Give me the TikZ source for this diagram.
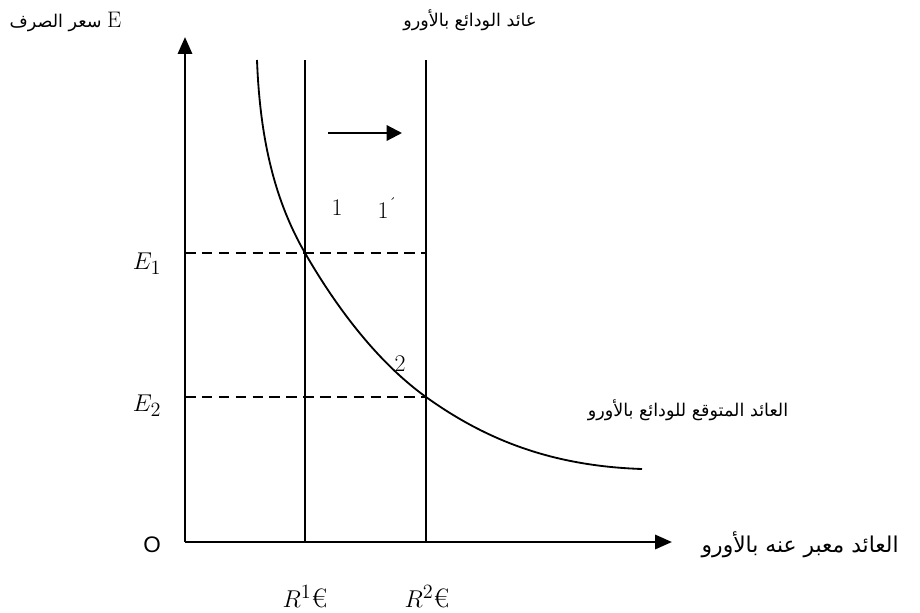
\documentclass[tikz,border=0pt]{standalone}
\usepackage{fontspec}
\newfontfamily\arabicfont[Script=Arabic]{DejaVu Sans}
\newfontfamily\axisfont{Liberation Sans}
\TeXXeTstate=1
\usetikzlibrary{positioning, arrows.meta}

\begin{document}
\begin{tikzpicture}[
    x=0.025cm, y=-0.025cm,
    axis line/.style={-{Triangle[length=12pt, width=10pt]}, line width=2pt},
    shift arrow/.style={-{Triangle[length=11pt, width=11pt]}, line width=1.6pt},
    rate line/.style={line width=1.2pt},
    level line/.style={line width=1.6pt, dash pattern=on 7.5pt off 4.5pt},
    curve line/.style={line width=1.3pt},
    ar label/.style={font=\arabicfont\fontsize{12.5}{15}\selectfont, inner sep=1pt},
    math label/.style={font=\fontsize{19}{22}\selectfont, inner sep=1pt},
    num label/.style={font=\fontsize{17}{20}\selectfont, inner sep=1pt}
]
    \useasboundingbox (0,0) rectangle (920,612);

    % Points
    \coordinate (o) at (185,542);
    \coordinate (ytip) at (185,37);
    \coordinate (xtip) at (672,542);
    \coordinate (r1top) at (305,60);
    \coordinate (r1bot) at (305,542);
    \coordinate (r2top) at (426,60);
    \coordinate (r2bot) at (426,542);
    \coordinate (e1left) at (185,253);
    \coordinate (e1right) at (426,253);
    \coordinate (e2left) at (185,397);
    \coordinate (e2right) at (426,397);
    \coordinate (shiftstart) at (328,133);
    \coordinate (shiftend) at (402,133);
    \coordinate (ctop) at (257,60);
    \coordinate (cend) at (642,469);

    % Axes
    \draw[axis line] (o) -- (ytip);
    \draw[axis line] (o) -- (xtip);

    % Euro deposit returns
    \draw[rate line] (r1top) -- (r1bot);
    \draw[rate line] (r2top) -- (r2bot);
    \draw[shift arrow] (shiftstart) -- (shiftend);

    % Exchange rate levels
    \draw[level line] (e1left) -- (e1right);
    \draw[level line] (e2left) -- (e2right);

    % Expected return curve
    \draw[curve line] (ctop) .. controls (260,140) and (275,201) .. (e1left -| r1top)
        .. controls (335,305) and (376,361) .. (e2right)
        .. controls (486,440) and (552,466) .. (cend);

    % Labels
    \node[ar label, anchor=west] (ylabel) at (8,22)
        {\beginR سعر الصرف\endR\ \fontspec{Latin Modern Roman}\fontsize{16}{18}\selectfont E};
    \node[ar label] (toplabel) at (470,20) {\beginR عائد الودائع بالأورو\endR};
    \node[ar label] (curvelabel) at (688,410) {\beginR العائد المتوقع للودائع بالأورو\endR};
    \node[ar label, font=\arabicfont\fontsize{15.5}{18}\selectfont, anchor=west] (xlabel) at (700,545)
        {\beginR العائد معبر عنه بالأورو\endR};
    \node[font=\axisfont\fontsize{16}{18}\selectfont] (origin) at (152,545) {O};
    \node[math label] (e1) at (147,264) {$E_1$};
    \node[math label] (e2) at (147,406) {$E_2$};
    \node[math label] (r1) at (305,597) {$R^1$€};
    \node[math label] (r2) at (427,597) {$R^2$€};
    \node[num label] (one) at (337,208) {1};
    \node[num label] (oneprime) at (383,208) {1\rlap{\raisebox{0.9ex}{\fontsize{11}{12}\selectfont\'{}}}};
    \node[num label] (two) at (400,364) {2};

\end{tikzpicture}
\end{document}
